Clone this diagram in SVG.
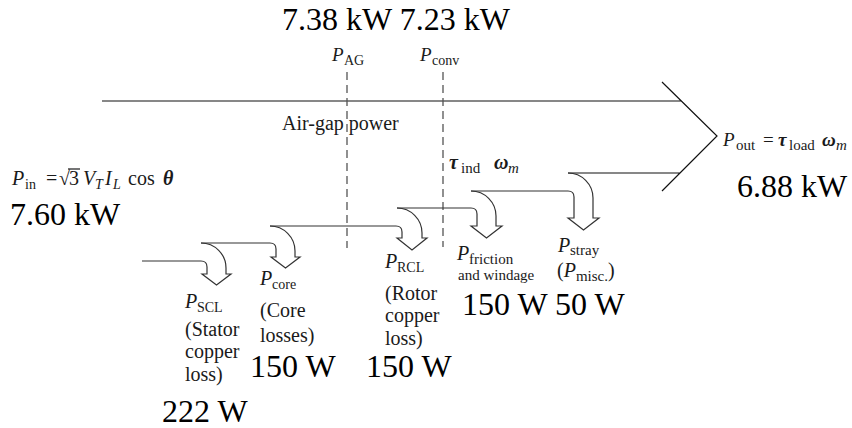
<svg xmlns="http://www.w3.org/2000/svg" width="852" height="428" viewBox="0 0 852 428" font-family="'Liberation Serif', 'Times New Roman', 'DejaVu Serif', serif">
<style>
text{font-family:'Liberation Serif','Times New Roman','DejaVu Serif',serif;fill:#1a1a1a;font-size:20px}
.big{font-size:32px;fill:#000}
.it{font-style:italic}
.bi{font-style:italic;font-weight:bold}
.s14{font-size:14px}
.s15{font-size:15px}
.s19{font-size:19px}
.flow{fill:none;stroke:#111;stroke-width:1.2}
.arr{fill:none;stroke:#333;stroke-width:1.2;stroke-linejoin:miter}
.dash{fill:none;stroke:#555;stroke-width:1.3;stroke-dasharray:8,5}
</style>
<rect width="852" height="428" fill="#fff"/>
<g id="connectors">
<path class="flow" d="M102,101 H681 M662,82 L717,136 L662,191 M568,173 H680"/>
<path class="dash" d="M347,72 V248"/>
<path class="dash" d="M443,72 V247"/>
<path class="arr" d="M142,261 H201 Q207,261 207,267 V274 H202 L216.5,285 L231,274 H226 V268 A25,25 0 0 0 201,243"/>
<path class="arr" d="M201,243 H270 Q276,243 276,249 V257 H271 L285.5,268 L300,257 H295 V251 A25,25 0 0 0 270,226"/>
<path class="arr" d="M270,226 H396 Q402,226 402,232 V238 H397 L412,250 L427,238 H422 V233 A25,25 0 0 0 397,208"/>
<path class="arr" d="M397,208 H471 Q477,208 477,214 V226 H471 L486.5,238 L502,226 H496 V216 A25,25 0 0 0 471,191"/>
<path class="arr" d="M471,191 H568 Q574,191 574,197 V218 H568 L583.5,230 L599,218 H593 V198 A25,25 0 0 0 568,173"/>
</g>
<g id="top-values">
<text class="big" x="282" y="30">7.38 kW 7.23 kW</text>
</g>
<g id="node-airgap">
<text class="s19" x="332" y="61"><tspan class="it">P</tspan><tspan class="s14" x="344" y="65">AG</tspan></text>
<text x="282" y="130">Air-gap power</text>
</g>
<g id="node-conv">
<text class="s19" x="420" y="61"><tspan class="it">P</tspan><tspan class="s14" x="432" y="65">conv</tspan></text>
<text x="449" y="169"><tspan class="bi">τ</tspan><tspan class="s15" x="461" y="173">ind</tspan><tspan class="bi" x="494" y="169">ω</tspan><tspan class="it s15" x="508" y="173">m</tspan></text>
</g>
<g id="node-input">
<text x="12" y="185"><tspan class="it">P</tspan><tspan class="s14" x="25" y="189">in</tspan><tspan x="46" y="185">=</tspan><tspan x="59" y="185" font-weight="bold">√</tspan><tspan x="69" y="185">3</tspan><tspan class="it" x="83" y="185">V</tspan><tspan class="it s14" x="95" y="189">T</tspan><tspan class="it" x="105" y="185">I</tspan><tspan class="it s14" x="113" y="189">L</tspan><tspan x="128" y="185">cos</tspan><tspan class="bi" x="163" y="185">θ</tspan></text>
<line x1="68" y1="169" x2="80" y2="169" stroke="#1a1a1a" stroke-width="1.2"/>
<text class="big" x="10" y="225">7.60 kW</text>
</g>
<g id="node-output">
<text class="s19" x="723" y="146"><tspan class="it">P</tspan><tspan class="s15" x="736" y="150">out</tspan><tspan x="763" y="146">=</tspan><tspan class="bi" x="778" y="146">τ</tspan><tspan class="s15" x="789" y="150">load</tspan><tspan class="bi" x="822" y="146">ω</tspan><tspan class="it s15" x="836" y="150">m</tspan></text>
<text class="big" x="737" y="197">6.88 kW</text>
</g>
<g id="node-scl">
<text x="185" y="308"><tspan class="it">P</tspan><tspan class="s14" x="197" y="312">SCL</tspan></text>
<text x="185" y="336">(Stator</text>
<text x="185" y="358">copper</text>
<text x="185" y="381">loss)</text>
<text class="big" x="162" y="422">222 W</text>
</g>
<g id="node-core">
<text x="260" y="285"><tspan class="it">P</tspan><tspan class="s14" x="272" y="289">core</tspan></text>
<text x="260" y="317">(Core</text>
<text x="260" y="342">losses)</text>
<text class="big" x="250" y="377">150 W</text>
</g>
<g id="node-rcl">
<text x="385" y="268"><tspan class="it">P</tspan><tspan class="s14" x="397" y="272">RCL</tspan></text>
<text x="385" y="300">(Rotor</text>
<text x="385" y="322">copper</text>
<text x="385" y="345">loss)</text>
<text class="big" x="366" y="377">150 W</text>
</g>
<g id="node-friction">
<text x="457" y="260"><tspan class="it">P</tspan><tspan class="s15" x="469" y="264">friction</tspan></text>
<text class="s15" x="458" y="280">and windage</text>
</g>
<g id="node-stray">
<text x="558" y="252"><tspan class="it">P</tspan><tspan class="s15" x="570" y="255">stray</tspan></text>
<text x="557" y="277">(<tspan class="it">P</tspan><tspan class="s15" y="281">misc.</tspan><tspan y="277">)</tspan></text>
</g>
<g id="loss-values">
<text class="big" x="462" y="315">150 W 50 W</text>
</g>
</svg>
